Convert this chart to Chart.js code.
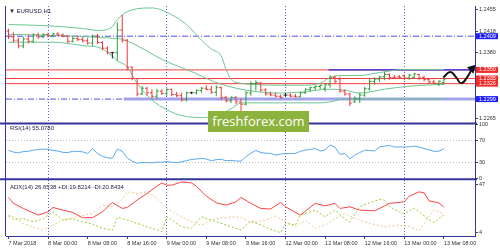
<!DOCTYPE html>
<html>
<head>
<meta charset="utf-8">
<title>EURUSD H1</title>
<script src="https://cdn.jsdelivr.net/npm/chart.js@4.4.1/dist/chart.umd.min.js"></script>
<style>
  html, body { margin: 0; padding: 0; background: #ffffff; }
  #wrap { position: relative; width: 500px; height: 250px; overflow: hidden; }
  #chart { position: absolute; left: 0; top: 0; }
  #brand {
    position: absolute; left: 208px; top: 111px; width: 101px; height: 21px;
    background: #8cb33c; color: #ffffff; text-align: center;
    font: 13px/21px "Open Sans", sans-serif;
  }
</style>
</head>
<body>
<div id="wrap">
  <canvas id="chart" width="500" height="250"></canvas>
  <div id="brand">freshforex.com</div>
</div>
<script>
// ---- values (H1 bars, 7 Mar 16:00 .. 13 Mar 08:00) ----
const symbolTitle = "EURUSD,H1";
const rsiTitle = "RSI(14) 55.0780";
const adxTitle = "ADX(14) 26.6538 +DI:19.8214 -DI:20.8434";

const tickBars = [0, 8, 16, 24, 32, 40, 48, 56, 64, 72, 80, 88];
const tickLabels = ["7 Mar 2018", "8 Mar 00:00", "8 Mar 08:00", "8 Mar 16:00", "9 Mar 00:00", "9 Mar 08:00",
                    "9 Mar 16:00", "12 Mar 00:00", "12 Mar 08:00", "12 Mar 16:00", "13 Mar 00:00", "13 Mar 08:00"];
const dayStartBars = [8, 32, 56, 80];

const opens = [1.2418, 1.2408, 1.2402, 1.2392, 1.2404, 1.2400, 1.2411, 1.2408, 1.2412, 1.2410,
               1.2413, 1.2411, 1.2409, 1.2400, 1.2405, 1.2403, 1.2401, 1.2397, 1.2409, 1.2398,
               1.2388, 1.2380, 1.2380, 1.2420, 1.2402, 1.2355, 1.2335, 1.2308, 1.2318, 1.2310,
               1.2304, 1.2313, 1.2309, 1.2316, 1.2307, 1.2305, 1.2298, 1.2310, 1.2310, 1.2314,
               1.2318, 1.2316, 1.2311, 1.2319, 1.2302, 1.2296, 1.2302, 1.2294, 1.2290, 1.2310,
               1.2326, 1.2327, 1.2315, 1.2308, 1.2306, 1.2304, 1.2306, 1.2306, 1.2304, 1.2303,
               1.2310, 1.2316, 1.2319, 1.2321, 1.2318, 1.2324, 1.2337, 1.2334, 1.2313, 1.2308,
               1.2294, 1.2300, 1.2306, 1.2317, 1.2330, 1.2334, 1.2338, 1.2342, 1.2337, 1.2338,
               1.2340, 1.2336, 1.2337, 1.2342, 1.2337, 1.2333, 1.2329, 1.2326, 1.2328];
const highs = [1.2422, 1.2416, 1.2406, 1.2408, 1.2412, 1.2414, 1.2415, 1.2414, 1.2415, 1.2415,
               1.2416, 1.2414, 1.2411, 1.2408, 1.2410, 1.2408, 1.2406, 1.2412, 1.2413, 1.2400,
               1.2391, 1.2382, 1.2433, 1.2446, 1.2404, 1.2356, 1.2336, 1.2322, 1.2320, 1.2316,
               1.2317, 1.2316, 1.2318, 1.2317, 1.2312, 1.2310, 1.2312, 1.2312, 1.2316, 1.2320,
               1.2323, 1.2322, 1.2323, 1.2321, 1.2305, 1.2304, 1.2304, 1.2300, 1.2313, 1.2330,
               1.2332, 1.2329, 1.2318, 1.2312, 1.2310, 1.2307, 1.2310, 1.2309, 1.2308, 1.2312,
               1.2318, 1.2321, 1.2323, 1.2325, 1.2326, 1.2341, 1.2340, 1.2338, 1.2316, 1.2310,
               1.2304, 1.2310, 1.2320, 1.2335, 1.2337, 1.2340, 1.2347, 1.2344, 1.2341, 1.2341,
               1.2342, 1.2343, 1.2345, 1.2343, 1.2340, 1.2336, 1.2333, 1.2332, 1.2337];
const lows = [1.2404, 1.2398, 1.2388, 1.2388, 1.2396, 1.2398, 1.2404, 1.2405, 1.2408, 1.2407,
              1.2409, 1.2407, 1.2397, 1.2398, 1.2400, 1.2398, 1.2394, 1.2392, 1.2395, 1.2385,
              1.2377, 1.2370, 1.2366, 1.2398, 1.2349, 1.2332, 1.2304, 1.2306, 1.2305, 1.2300,
              1.2299, 1.2306, 1.2305, 1.2304, 1.2302, 1.2295, 1.2295, 1.2308, 1.2307, 1.2310,
              1.2314, 1.2308, 1.2304, 1.2297, 1.2293, 1.2292, 1.2290, 1.2273, 1.2288, 1.2305,
              1.2314, 1.2312, 1.2305, 1.2304, 1.2302, 1.2300, 1.2303, 1.2302, 1.2302, 1.2302,
              1.2308, 1.2312, 1.2315, 1.2316, 1.2312, 1.2319, 1.2327, 1.2310, 1.2305, 1.2287,
              1.2292, 1.2292, 1.2303, 1.2314, 1.2324, 1.2329, 1.2332, 1.2333, 1.2334, 1.2335,
              1.2332, 1.2333, 1.2335, 1.2332, 1.2330, 1.2326, 1.2325, 1.2322, 1.2324];
const closes = [1.2408, 1.2402, 1.2392, 1.2404, 1.2400, 1.2411, 1.2408, 1.2412, 1.2410, 1.2413,
                1.2411, 1.2409, 1.2400, 1.2405, 1.2403, 1.2401, 1.2397, 1.2409, 1.2398, 1.2388,
                1.2380, 1.2380, 1.2420, 1.2402, 1.2355, 1.2335, 1.2308, 1.2318, 1.2310, 1.2304,
                1.2313, 1.2309, 1.2316, 1.2307, 1.2305, 1.2298, 1.2310, 1.2310, 1.2314, 1.2318,
                1.2316, 1.2311, 1.2319, 1.2302, 1.2296, 1.2302, 1.2294, 1.2290, 1.2310, 1.2326,
                1.2328, 1.2315, 1.2308, 1.2306, 1.2304, 1.2302, 1.2306, 1.2304, 1.2303, 1.2310,
                1.2316, 1.2319, 1.2321, 1.2323, 1.2324, 1.2337, 1.2330, 1.2313, 1.2308, 1.2292,
                1.2300, 1.2306, 1.2317, 1.2330, 1.2334, 1.2338, 1.2342, 1.2337, 1.2336, 1.2337,
                1.2336, 1.2341, 1.2343, 1.2336, 1.2333, 1.2329, 1.2327, 1.2330, 1.2334];

// Bollinger bands, read at the bars where the curves could be followed
const upperBars = [0, 7, 15, 18, 20, 21, 22, 23, 25, 29, 33, 36, 39, 41, 43, 44, 45, 47, 49, 55, 59, 63, 65, 68, 71, 75, 80, 88];
const upperValues = [1.24293, 1.24276, 1.24225, 1.24191, 1.24208, 1.24259, 1.24379, 1.24464, 1.24550, 1.24584,
                     1.24464, 1.24293, 1.24019, 1.23865, 1.23745, 1.23506, 1.23335, 1.23266, 1.23249, 1.23232,
                     1.23232, 1.23266, 1.23369, 1.23403, 1.23403, 1.23454, 1.23506, 1.23506];
const middleBars = [0, 9, 18, 21, 23, 32, 37, 40, 43, 47, 51, 55, 59, 65, 68, 71, 76, 81, 88];
const middleValues = [1.24122, 1.24105, 1.24071, 1.24054, 1.24036, 1.23643, 1.23472, 1.23352, 1.23249, 1.23163,
                      1.23112, 1.23095, 1.23112, 1.23163, 1.23146, 1.23095, 1.23163, 1.23215, 1.23249];
const lowerBars = [0, 9, 16, 18, 21, 22, 24, 26, 29, 32, 35, 39, 42, 45, 47, 49, 55, 63, 65, 68, 88];
const lowerValues = [1.23985, 1.23985, 1.23917, 1.23900, 1.23745, 1.23660, 1.23557, 1.23266, 1.22975, 1.22804,
                     1.22701, 1.22667, 1.22701, 1.22821, 1.22924, 1.22924, 1.22924, 1.22924, 1.22941, 1.22992, 1.22992];

// horizontal levels
const dashDotLevels = [1.2409, 1.2299];
const redLevels = [1.2350, 1.2335, 1.2326];
const channelTop = 1.2350, channelTopFromBar = 64.7;
const channelBottom = 1.2299, channelBottomFromBar = 23.3;
const boxLevels = [1.2409, 1.2350, 1.2335, 1.2326, 1.2299];
const priceTicks = [1.2455, 1.2418, 1.2380, 1.2265];

// hand-drawn forecast arrow
const arrowBars = [87.9, 89.3, 90.5, 91.5, 92.7, 93.7];
const arrowPrices = [1.23369, 1.23463, 1.23369, 1.23266, 1.23369, 1.23523];

// RSI(14), one value per bar
const rsiValues = [52.5, 49, 47.5, 50, 50.5, 52.5, 54, 54.5, 54, 52,
                   51, 48.5, 48, 50.5, 50, 49.5, 46.5, 55.5, 46, 41,
                   38.5, 37.5, 54.5, 50.5, 38, 32, 28.5, 29.5, 29.5, 29,
                   30.5, 30, 31.5, 30, 29.5, 31, 33, 35.5, 36, 37.5,
                   36, 33, 35, 35.5, 33, 33.5, 32.5, 32, 40.5, 47,
                   52, 48, 47, 46.5, 43.5, 45, 46.5, 46, 46.5, 50.5,
                   52.5, 54, 55.5, 51, 53, 62.5, 58, 44.5, 46.5, 36.5,
                   43.5, 48, 52.5, 52, 51, 58.5, 60, 61.5, 58.5, 58.5,
                   58.5, 59, 60, 58.5, 55.5, 53, 50.5, 50.5, 55.08];
const rsiTicks = [0, 30, 70, 100];

// ADX(14) and its DI lines, read at turning points
const adxBars = [0, 1, 3, 6, 8, 9, 11, 13, 15, 17, 19, 21, 23, 24, 26, 28, 30, 31, 32, 33,
                 35, 37, 38, 40, 42, 44, 46, 47, 49, 51, 53, 55, 56, 59, 62, 64, 66, 67, 69, 71,
                 74, 76, 77, 80, 81, 83, 84, 85, 86, 87, 88];
const adxValues = [35.3, 30, 25.5, 19.6, 22.5, 26.4, 24, 22, 17.2, 17.4, 22.5, 30.8, 25.5, 26.4, 32.9, 38.8, 45.2, 48.1, 46.1, 46.1,
                   49, 48.1, 45.2, 36.4, 30.5, 28.5, 31.4, 35.3, 30, 25.5, 25, 30.8, 27, 19.6, 30, 27.8, 30, 25.5, 27, 24,
                   23.4, 27.6, 30, 31.4, 36.4, 40.2, 39.3, 32.3, 31.4, 30.5, 26.65];
const plusDiBars = [0, 1, 3, 5, 7, 9, 11, 13, 15, 17, 19, 21, 22, 24, 26, 28, 30, 31, 32, 35,
                    37, 39, 42, 45, 47, 49, 51, 53, 55, 56, 58, 59, 62, 64, 66, 68, 69, 71, 73, 75,
                    76, 77, 79, 80, 82, 83, 85, 86, 88];
const plusDiValues = [18.7, 15.8, 16.4, 13.7, 16.4, 22.5, 15.2, 16.4, 13.7, 11.7, 7.9, 6.4, 17.6, 15.2, 12.3, 9.3, 6.4, 4.9, 18.1, 9.3,
                      7.9, 18.1, 13.7, 9.3, 6.4, 14.5, 10.8, 7.1, 4, 12.3, 10.8, 19.6, 24, 18.1, 24, 16.4, 13.7, 27, 30.5, 33.5,
                      32.9, 27, 22.5, 21, 25.5, 22.5, 15.8, 13, 19.82];
const minusDiBars = [0, 1, 3, 5, 7, 9, 11, 14, 17, 19, 21, 23, 24, 26, 28, 30, 32, 35, 37, 39,
                     42, 45, 47, 49, 52, 54, 56, 58, 60, 62, 64, 66, 68, 69, 71, 73, 76, 79, 81, 83,
                     85, 86, 88];
const minusDiValues = [19.6, 18.1, 12.3, 8.8, 6.4, 10.8, 15.2, 18.1, 21, 28.5, 27, 33.5, 40.2, 38.8, 40.2, 34.4, 25.5, 18.1, 13.7, 10.8,
                       16.4, 18.1, 17.6, 12.8, 15.2, 18.7, 13.7, 9.3, 15.2, 7.9, 10.8, 16.4, 21, 18.7, 15.2, 12.3, 9.3, 10.8, 9.3, 5.8,
                       18.1, 24, 20.84];
const adxTicks = [4, 47];

// ---- look ----
const xMin = -0.5, xMax = 94.3;
const navy = '#34349a';
const labelFont = { family: '"Liberation Sans", Arial, sans-serif', size: 5.5 };
const boxColors = ['#1f1fff', '#f42c2c', '#f42c2c', '#f42c2c', '#1f1fff'];

const pts = (xs, ys) => xs.map((x, k) => ({ x: x, y: ys[k] }));
const hLine = (level, from, to) => [{ x: from, y: level }, { x: to, y: level }];
const barColor = opens.map((o, i) => closes[i] > o ? '#2f9e3a' : (closes[i] < o ? '#ee3a3a' : '#222222'));
const clear = 'rgba(0,0,0,0)';

function fixedTicks(list) {
  return scale => { scale.ticks = list.map(v => ({ value: v })); };
}
function fixWidth(scale) {
  scale.width = 25;
  scale.paddingTop = 0; scale.paddingBottom = 0;
}

const datasets = [
  { type: 'line', yAxisID: 'yPrice', order: 0, data: pts(arrowBars, arrowPrices),
    borderColor: '#111111', borderWidth: 2, tension: 0.45,
    pointRadius: arrowBars.map((b, k) => k === arrowBars.length - 1 ? 3.2 : 0),
    pointStyle: 'triangle', rotation: 45, pointBackgroundColor: '#111111', pointBorderColor: '#111111' },
  { type: 'scatter', yAxisID: 'yPrice', order: 1, data: opens.map((o, i) => ({ x: i - 0.2, y: o })),
    pointStyle: 'line', pointRadius: 1, pointBorderWidth: 1, borderColor: barColor, pointBorderColor: barColor, showLine: false },
  { type: 'scatter', yAxisID: 'yPrice', order: 1, data: closes.map((c, i) => ({ x: i + 0.2, y: c })),
    pointStyle: 'line', pointRadius: 1, pointBorderWidth: 1, borderColor: barColor, pointBorderColor: barColor, showLine: false },
  { type: 'bar', yAxisID: 'yPrice', order: 2, data: opens.map((o, i) => ({ x: i, y: [lows[i], highs[i]] })),
    backgroundColor: barColor, barThickness: 1, borderWidth: 0, grouped: false, inflateAmount: 0 },
  { type: 'line', yAxisID: 'yPrice', order: 3, data: pts(upperBars, upperValues),
    borderColor: '#6cc693', borderWidth: 1, pointRadius: 0, cubicInterpolationMode: 'monotone' },
  { type: 'line', yAxisID: 'yPrice', order: 3, data: pts(middleBars, middleValues),
    borderColor: '#6cc693', borderWidth: 1, pointRadius: 0, cubicInterpolationMode: 'monotone' },
  { type: 'line', yAxisID: 'yPrice', order: 3, data: pts(lowerBars, lowerValues),
    borderColor: '#6cc693', borderWidth: 1, pointRadius: 0, cubicInterpolationMode: 'monotone' },
  { type: 'line', yAxisID: 'yPrice', order: 4, data: hLine(channelTop, channelTopFromBar, xMax),
    borderColor: '#2a2ae0', borderWidth: 1.2, pointRadius: 0 },
  ...redLevels.map(v => ({ type: 'line', yAxisID: 'yPrice', order: 5, data: hLine(v, xMin, xMax),
    borderColor: '#f53b3b', borderWidth: 1, pointRadius: 0 })),
  { type: 'line', yAxisID: 'yPrice', order: 6, data: hLine(channelBottom, channelBottomFromBar, xMax),
    borderColor: '#a3a3ea', borderWidth: 3, pointRadius: 0 },
  ...dashDotLevels.map(v => ({ type: 'line', yAxisID: 'yPrice', order: 7, data: hLine(v, xMin, xMax),
    borderColor: '#5050e6', borderWidth: 1, borderDash: [6, 2, 1, 2], pointRadius: 0 })),
  { type: 'line', yAxisID: 'yRsi', order: 0, data: rsiValues.map((v, i) => ({ x: i, y: v })),
    borderColor: '#5aa9f0', borderWidth: 1, pointRadius: 0 },
  { type: 'line', yAxisID: 'yAdx', order: 0, data: pts(adxBars, adxValues),
    borderColor: '#ff4444', borderWidth: 1, pointRadius: 0 },
  { type: 'line', yAxisID: 'yAdx', order: 1, data: pts(plusDiBars, plusDiValues),
    borderColor: '#9acd32', borderWidth: 1, borderDash: [2, 2], pointRadius: 0 },
  { type: 'line', yAxisID: 'yAdx', order: 1, data: pts(minusDiBars, minusDiValues),
    borderColor: '#f0c890', borderWidth: 1, borderDash: [2, 2], pointRadius: 0 }
];

const panelDecor = {
  id: 'panelDecor',
  afterDraw(chart) {
    const { ctx, chartArea: a, scales } = chart;
    ctx.save();
    ctx.strokeStyle = navy;
    ctx.lineWidth = 2;
    [scales.yPrice.bottom, scales.yRsi.bottom].forEach(y => {
      ctx.beginPath(); ctx.moveTo(0, y); ctx.lineTo(a.right + 2, y); ctx.stroke();
    });
    ctx.lineWidth = 1;
    ctx.beginPath(); ctx.moveTo(a.left - 0.5, a.top); ctx.lineTo(a.left - 0.5, a.bottom); ctx.stroke();

    ctx.fillStyle = '#222244';
    ctx.textBaseline = 'top';
    ctx.font = '6px "Liberation Sans", Arial, sans-serif';
    ctx.fillText('\u25BC ' + symbolTitle, a.left + 3, scales.yPrice.top + 2);
    ctx.fillText(rsiTitle, a.left + 4, scales.yRsi.top + 2);
    ctx.fillText(adxTitle, a.left + 4, scales.yAdx.top + 5);

    ctx.font = '5.5px "Liberation Sans", Arial, sans-serif';
    ctx.textBaseline = 'middle';
    boxLevels.forEach((v, k) => {
      const y = scales.yPrice.getPixelForValue(v);
      ctx.fillStyle = boxColors[k];
      ctx.fillRect(a.right + 1, y - 3, 22, 6);
      ctx.fillStyle = '#ffffff';
      ctx.fillText(v.toFixed(4), a.right + 4, y);
    });
    ctx.restore();
  }
};

const yCommon = {
  type: 'linear', position: 'right', stack: 'panes', beginAtZero: false,
  border: { display: true, color: navy, width: 1, dash: [1, 2] },
  afterFit: fixWidth
};

new Chart(document.getElementById('chart'), {
  type: 'line',
  data: { datasets: datasets },
  plugins: [panelDecor],
  options: {
    responsive: false,
    animation: false,
    events: [],
    layout: { padding: { left: 1, top: 1, right: 0, bottom: 0 } },
    plugins: { legend: { display: false }, tooltip: { enabled: false } },
    scales: {
      x: {
        type: 'linear', min: xMin, max: xMax, offset: false,
        afterBuildTicks: fixedTicks(tickBars),
        ticks: { callback: (v, idx) => tickLabels[idx], align: 'start', maxRotation: 0, autoSkip: false,
                 font: labelFont, color: '#333333', padding: 1 },
        grid: { offset: false, color: c => (c.tick && dayStartBars.includes(c.tick.value)) ? '#5c5cd8' : clear,
                tickColor: '#444444', tickLength: 3, lineWidth: 1 },
        border: { display: true, color: navy, width: 1, dash: [1, 2] },
        afterFit: s => { s.height = 14; s.paddingLeft = 0; s.paddingRight = 0; }
      },
      yPrice: Object.assign({}, yCommon, {
        stackWeight: 120, min: 1.22564, max: 1.24618,
        afterBuildTicks: fixedTicks(priceTicks),
        ticks: { callback: v => v.toFixed(4), font: labelFont, color: '#333333', padding: 1, autoSkip: false },
        grid: { drawOnChartArea: false, tickLength: 3, tickColor: '#444444' }
      }),
      yRsi: Object.assign({}, yCommon, {
        stackWeight: 57, min: -1.45, max: 102.2,
        afterBuildTicks: fixedTicks(rsiTicks),
        ticks: { callback: v => String(v), font: labelFont, color: '#333333', padding: 1, autoSkip: false },
        grid: { color: c => (c.tick && (c.tick.value === 30 || c.tick.value === 70)) ? '#bdbdbd' : clear,
                tickLength: 3, tickColor: '#444444' }
      }),
      yAdx: Object.assign({}, yCommon, {
        stackWeight: 58, min: 1.09, max: 51.4,
        afterBuildTicks: fixedTicks(adxTicks),
        ticks: { callback: v => String(v), font: labelFont, color: '#333333', padding: 1, autoSkip: false },
        grid: { drawOnChartArea: false, tickLength: 3, tickColor: '#444444' }
      })
    }
  }
});
</script>
</body>
</html>
